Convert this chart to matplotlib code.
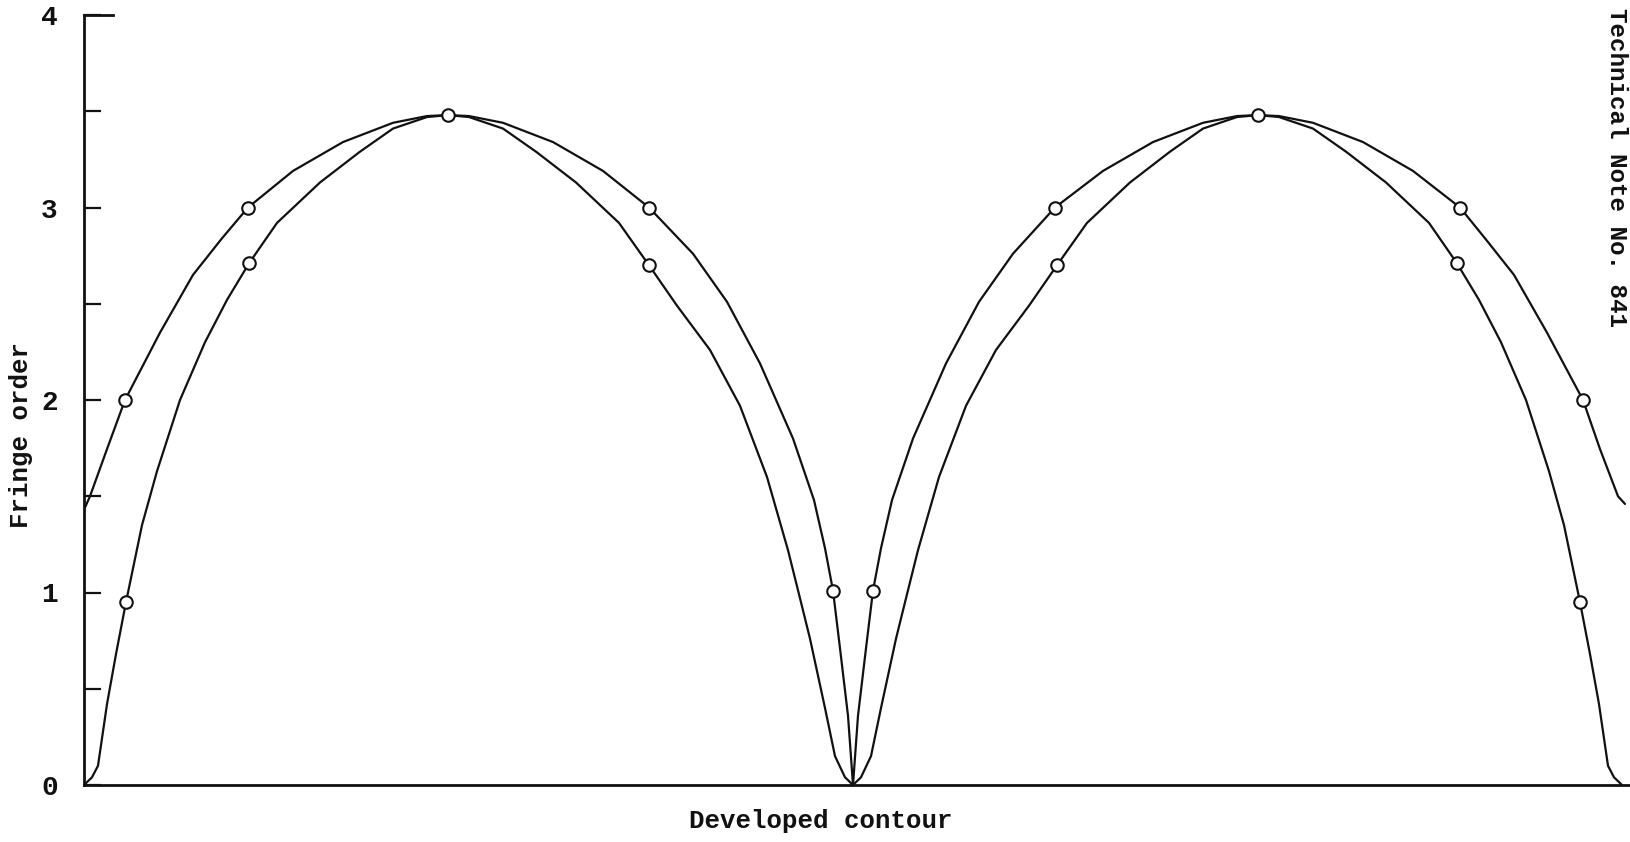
import matplotlib
matplotlib.use("Agg")
import matplotlib.pyplot as plt

# fringe order along the developed contour (x in contour units, 769 = mid point)
a_left_x = [0, 6, 23, 41, 76, 109, 138, 164, 209, 259, 309, 343, 364, 385, 419,
            469, 519, 565, 609, 643, 676, 709, 730, 741, 749, 756, 764, 769]
a_left_y = [1.43, 1.50, 1.745, 2.00, 2.35, 2.65, 2.84, 3.00, 3.19, 3.34, 3.44, 3.475,
            3.48, 3.475, 3.44, 3.34, 3.19, 3.00, 2.76, 2.51, 2.19, 1.80, 1.48, 1.23,
            1.01, 0.71, 0.36, 0.0]

b_left_x = [0, 8, 14, 23, 32, 42, 58, 73, 96, 121, 143, 165, 193, 236, 276, 309, 343,
            364, 385, 419, 452, 492, 535, 565, 593, 626, 656, 683, 704, 716, 726, 741,
            751, 761, 769]
b_left_y = [0.0, 0.04, 0.10, 0.42, 0.68, 0.95, 1.35, 1.63, 2.00, 2.30, 2.52, 2.71, 2.92,
            3.13, 3.29, 3.41, 3.47, 3.48, 3.47, 3.41, 3.29, 3.13, 2.92, 2.70, 2.49, 2.26,
            1.97, 1.60, 1.22, 0.97, 0.76, 0.40, 0.15, 0.04, 0.0]

a_right_x = [769, 774, 782, 789, 797, 808, 829, 862, 895, 929, 971, 1019, 1069, 1119,
             1153, 1174, 1195, 1229, 1279, 1329, 1376, 1401, 1430, 1463, 1499, 1516,
             1534, 1541]
a_right_y = [0.0, 0.36, 0.71, 1.01, 1.23, 1.48, 1.80, 2.19, 2.51, 2.76, 3.00, 3.19, 3.34,
             3.44, 3.475, 3.48, 3.475, 3.44, 3.34, 3.19, 3.00, 2.84, 2.65, 2.35, 2.00,
             1.745, 1.50, 1.46]

b_right_x = [769, 777, 787, 797, 812, 822, 834, 855, 882, 912, 945, 973, 1003, 1046,
             1086, 1119, 1153, 1174, 1195, 1229, 1262, 1302, 1345, 1373, 1395, 1417,
             1442, 1465, 1480, 1496, 1506, 1515, 1524, 1530, 1538]
b_right_y = [0.0, 0.04, 0.15, 0.40, 0.76, 0.97, 1.22, 1.60, 1.97, 2.26, 2.49, 2.70, 2.92,
             3.13, 3.29, 3.41, 3.47, 3.48, 3.47, 3.41, 3.29, 3.13, 2.92, 2.71, 2.52, 2.30,
             2.00, 1.63, 1.35, 0.95, 0.68, 0.42, 0.10, 0.04, 0.0]

# measured points
pts_a_x = [41, 164, 364, 565, 749, 789, 971, 1174, 1376, 1499]
pts_a_y = [2.0, 3.0, 3.48, 3.0, 1.01, 1.01, 3.0, 3.48, 3.0, 2.0]
pts_b_x = [42, 165, 565, 973, 1373, 1496]
pts_b_y = [0.95, 2.71, 2.70, 2.70, 2.71, 0.95]

y_ticks = [0, 1, 2, 3, 4]
y_minor = [0.5, 1.5, 2.5, 3.5]

FONT = "Liberation Mono"
INK = "#111111"

fig = plt.figure(figsize=(16.3, 8.42), dpi=100)
ax = fig.add_axes([84 / 1630, 57 / 842, 1546 / 1630, 770 / 842])

for xs, ys in [(a_left_x, a_left_y), (b_left_x, b_left_y),
               (a_right_x, a_right_y), (b_right_x, b_right_y)]:
    ax.plot(xs, ys, color=INK, lw=1.6, solid_joinstyle="round",
            solid_capstyle="round", zorder=2)

ax.plot(pts_a_x + pts_b_x, pts_a_y + pts_b_y, linestyle="none", marker="o",
        markersize=9, markerfacecolor="white", markeredgecolor=INK,
        markeredgewidth=1.5, zorder=3, clip_on=False)

ax.set_xlim(0, 1546)
ax.set_ylim(0, 4)

for side in ["top", "right"]:
    ax.spines[side].set_visible(False)
for side in ["left", "bottom"]:
    ax.spines[side].set_linewidth(2.0)
    ax.spines[side].set_color(INK)

ax.set_xticks([])
ax.set_yticks(y_ticks)
ax.set_yticks(y_minor, minor=True)
ax.set_yticklabels([str(t) for t in y_ticks], fontfamily=FONT, fontsize=20,
                   fontweight="bold")
ax.tick_params(axis="y", which="both", direction="in", width=1.6, color=INK,
               length=12, pad=19, labelcolor=INK)
# short cap at the top of the scale
ax.plot([0, 0.019], [1, 1], transform=ax.transAxes, color=INK, lw=2.0,
        clip_on=False)

fig.text(21 / 1630, 1 - 435 / 842, "Fringe order", rotation=90, ha="center",
         va="center", fontfamily=FONT, fontsize=18.5, fontweight="bold", color=INK)
fig.text(821 / 1630, 1 - 821 / 842, "Developed contour", ha="center", va="center",
         fontfamily=FONT, fontsize=18.5, fontweight="bold", color=INK)
fig.text(1617 / 1630, 1 - 168 / 842, "Technical Note No. 841", rotation=-90,
         ha="center", va="center", fontfamily=FONT, fontsize=17.5,
         fontweight="bold", color=INK)

fig.savefig("out.png", dpi=100, facecolor="white")
